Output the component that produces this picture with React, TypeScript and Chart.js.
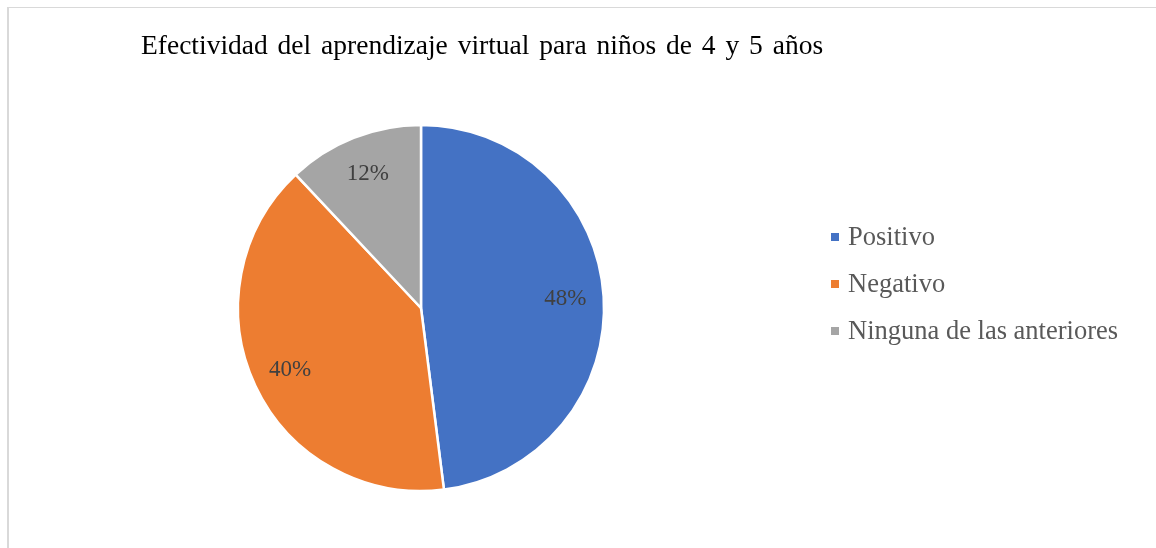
import React, { useEffect, useRef } from "react";
import { Chart, registerables } from "chart.js";

Chart.register(...registerables);

const titleText = "Efectividad del aprendizaje virtual para niños de 4 y 5 años";
const categories = ["Positivo", "Negativo", "Ninguna de las anteriores"];
const values = [48, 40, 12];
const colors = ["#4472C4", "#ED7D31", "#A5A5A5"];

const SERIF = '"Liberation Serif", "Times New Roman", serif';

const overlayPlugin = {
  id: "overlay",
  afterDatasetsDraw(chart: any) {
    const ctx = chart.ctx;
    const meta = chart.getDatasetMeta(0);
    const total = values.reduce((a, b) => a + b, 0);
    ctx.save();
    // slice labels
    ctx.font = `23px ${SERIF}`;
    ctx.fillStyle = "#404040";
    ctx.textAlign = "center";
    ctx.textBaseline = "middle";
    meta.data.forEach((arc: any, i: number) => {
      const p = arc.getProps(["x", "y", "startAngle", "endAngle", "outerRadius"], true);
      const mid = (p.startAngle + p.endAngle) / 2;
      const r = p.outerRadius * 0.79;
      const x = p.x + Math.cos(mid) * r;
      const y = p.y + Math.sin(mid) * r;
      const pct = Math.round((values[i] / total) * 100) + "%";
      ctx.fillText(pct, x, y);
    });
    // title
    ctx.font = `27.5px ${SERIF}`;
    (ctx as any).wordSpacing = "3px";
    ctx.fillStyle = "#000000";
    ctx.textAlign = "left";
    ctx.textBaseline = "alphabetic";
    ctx.fillText(titleText, 141, 54);
    (ctx as any).wordSpacing = "0px";
    // legend
    ctx.font = `26.5px ${SERIF}`;
    ctx.textBaseline = "middle";
    categories.forEach((c, i) => {
      const cy = 237 + i * 47;
      ctx.fillStyle = colors[i];
      ctx.fillRect(831, cy - 4, 8, 8);
      ctx.fillStyle = "#595959";
      ctx.fillText(c, 848, cy + 1);
    });
    ctx.restore();
  },
};

export default function App() {
  const ref = useRef<HTMLCanvasElement | null>(null);
  useEffect(() => {
    if (!ref.current) return;
    const chart = new Chart(ref.current, {
      type: "pie",
      data: {
        labels: categories,
        datasets: [
          {
            data: values,
            backgroundColor: colors,
            borderColor: "#ffffff",
            borderWidth: 2.5,
          },
        ],
      },
      options: {
        responsive: false,
        animation: false,
        radius: 183,
        layout: { padding: { left: 231, right: 545, top: 118, bottom: 50 } },
        plugins: {
          legend: { display: false },
          title: { display: false },
          tooltip: { enabled: false },
        },
      } as any,
      plugins: [overlayPlugin],
    });
    return () => chart.destroy();
  }, []);
  return (
    <div style={{ position: "fixed", left: 0, top: 0, width: 1156, height: 548, background: "#fff" }}>
      <div
        style={{
          position: "absolute",
          left: 7,
          top: 7,
          width: 1200,
          height: 600,
          borderTop: "1.5px solid #d9d9d9",
          borderLeft: "2px solid #d9d9d9",
        }}
      />
      <canvas ref={ref} width={1156} height={548} style={{ position: "absolute", left: 0, top: 0 }} />
    </div>
  );
}
